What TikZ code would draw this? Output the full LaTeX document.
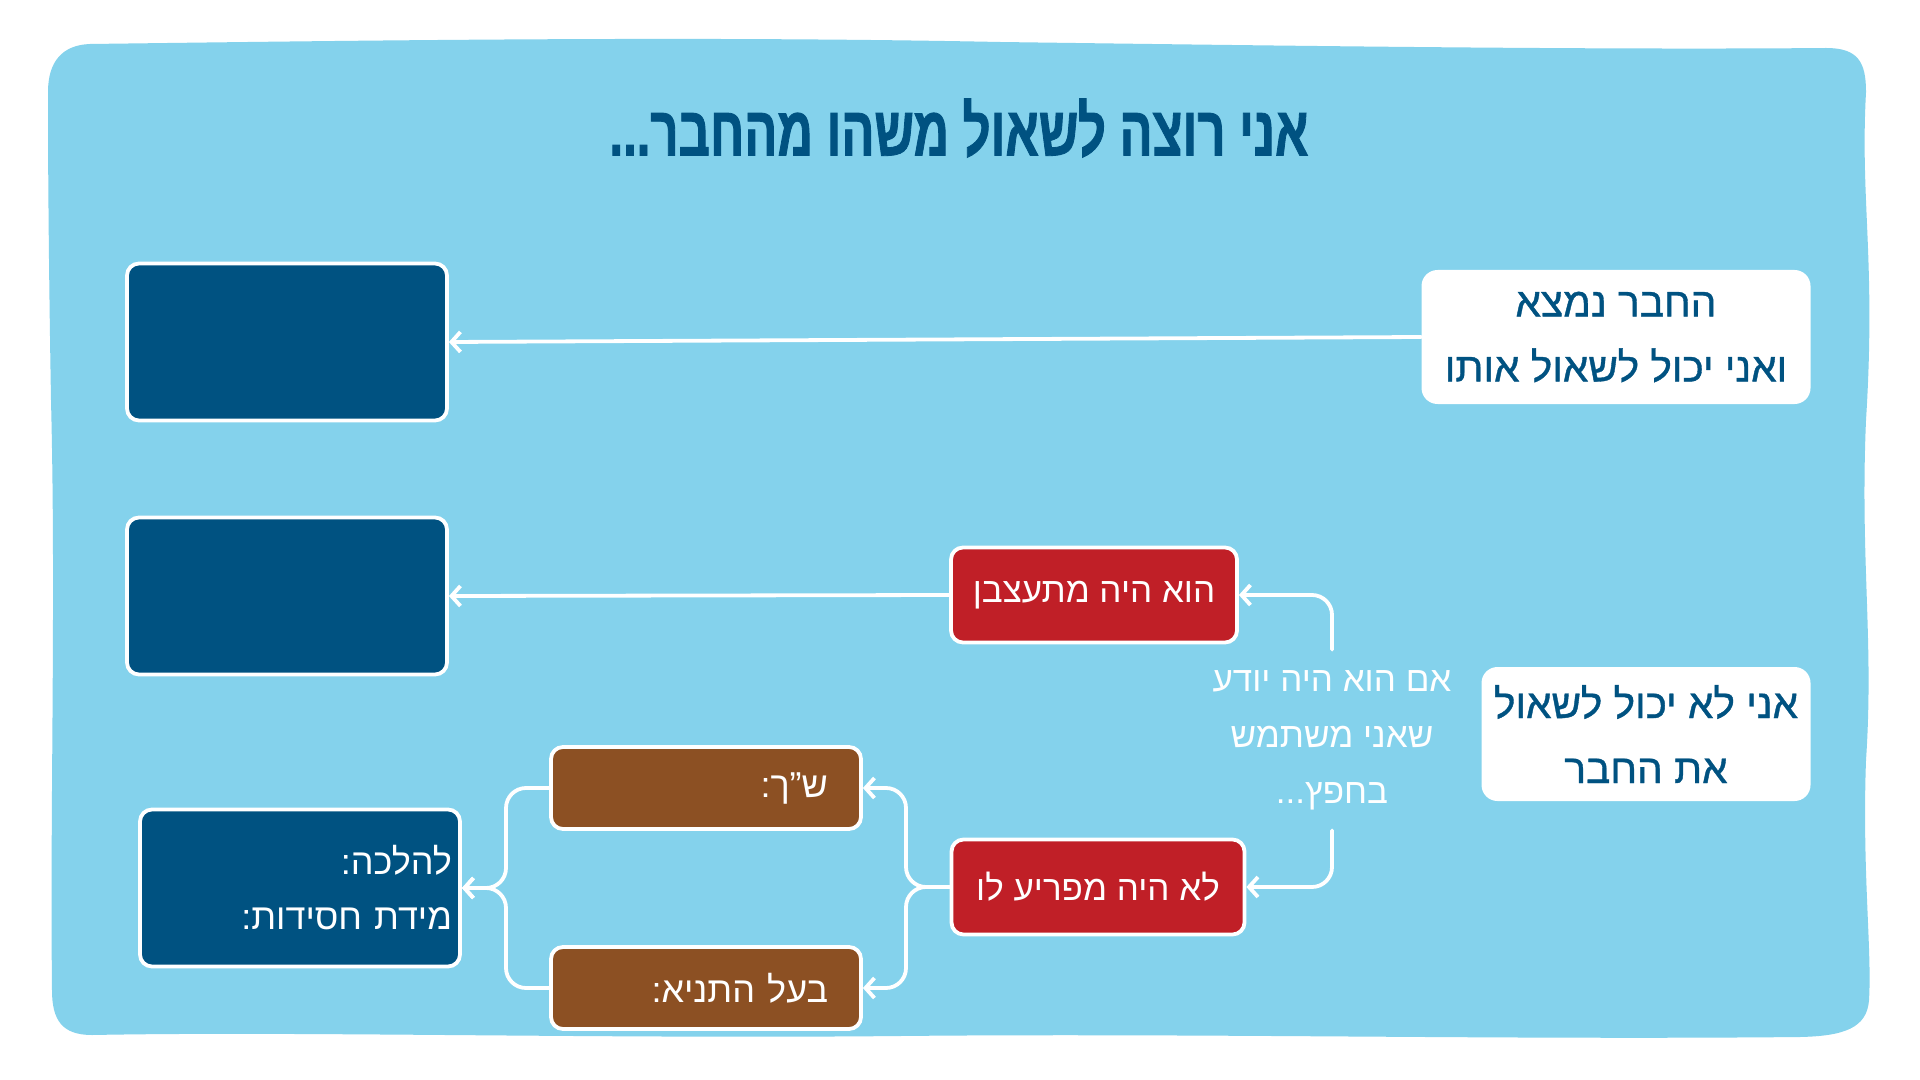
\documentclass[tikz,border=0pt]{standalone}
\usepackage{fontspec}
\usetikzlibrary{arrows.meta}
\TeXXeTstate=1
\newfontfamily\hebfont[Script=Hebrew]{Liberation Sans}
\newfontfamily\hebsemi[Script=Hebrew,FakeBold=0.9]{Liberation Sans}
\newfontfamily\titlefont[Script=Hebrew,FakeStretch=0.7,FakeBold=1.2]{Liberation Sans Bold}
\newcommand{\heb}[1]{{\beginR #1\endR}}
\definecolor{bgblue}{HTML}{84D2EC}
\definecolor{dkblue}{HTML}{005281}
\definecolor{redbox}{HTML}{C01F27}
\definecolor{brownbox}{HTML}{8C5023}
\tikzset{
  x=0.5pt, y=-0.5pt,
  basebox/.style={draw=white, line width=1.9pt, rounded corners=6pt, text=white, inner sep=0pt},
  darkbox/.style={basebox, fill=dkblue, minimum width=160pt, minimum height=78.5pt},
  redstep/.style={basebox, fill=redbox, minimum height=47.5pt, font=\hebfont\fontsize{17.5}{22}\selectfont},
  brownstep/.style={basebox, fill=brownbox, minimum width=155pt, minimum height=41pt, text width=122pt, align=right, font=\hebfont\fontsize{18}{22}\selectfont},
  whitebox/.style={fill=white, rounded corners=8pt, text=dkblue, align=center, font=\hebsemi\fontsize{20.3}{32.5}\selectfont},
  conn/.style={draw=white, line width=1.9pt, line cap=round, rounded corners=10pt, -{Straight Barb[length=4.5pt,width=10pt,line width=1.9pt]}}
}
\begin{document}
\begin{tikzpicture}
\useasboundingbox (0,0) rectangle (1920,1080);
\fill[white] (0,0) rectangle (1920,1080);
% wavy background
\fill[bgblue] (90,44) .. controls (400,40) and (700,36) .. (1000,42)
  .. controls (1300,46) and (1600,50) .. (1826,48)
  .. controls (1858,48) and (1866,62) .. (1866,92)
  .. controls (1860,200) and (1876,260) .. (1866,420)
  .. controls (1860,560) and (1874,640) .. (1866,760)
  .. controls (1862,870) and (1872,950) .. (1869,1000)
  .. controls (1867,1028) and (1844,1036) .. (1800,1037)
  .. controls (1500,1040) and (1200,1033) .. (900,1036)
  .. controls (600,1039) and (300,1031) .. (92,1035)
  .. controls (62,1035) and (52,1020) .. (52,990)
  .. controls (50,800) and (56,600) .. (51,400)
  .. controls (48,220) and (48,130) .. (48,92)
  .. controls (48,62) and (62,45) .. (90,44) -- cycle;
% title
\node[text=dkblue, font=\titlefont\fontsize{35}{40}\selectfont] (title) at (959,128) {\heb{אני רוצה לשאול משהו מהחבר...}};
% dark boxes
\node[darkbox] (A) at (287,342) {};
\node[darkbox] (B) at (287,596) {};
\node[darkbox, text width=152pt, align=right, font=\hebfont\fontsize{18}{27.5}\selectfont] (C) at (300,888) {\heb{להלכה:}\\\heb{מידת חסידות:}};
% white boxes
\node[whitebox, minimum width=194.5pt, minimum height=67pt] (W1) at (1616,337) {\heb{החבר נמצא}\\\heb{ואני יכול לשאול אותו}};
\node[whitebox, minimum width=164.5pt, minimum height=67pt] (W2) at (1646,734) {\heb{אני לא יכול לשאול}\\\heb{את החבר}};
% red boxes
\node[redstep, minimum width=143pt] (R1) at (1094,595) {\heb{הוא היה מתעצבן}};
\node[redstep, minimum width=146.5pt] (R2) at (1098,887) {\heb{לא היה מפריע לו}};
% brown boxes
\node[brownstep] (Br1) at (706,788) {\heb{ש”ך:}};
\node[brownstep] (Br2) at (706,988) {\heb{בעל התניא:}};
% middle label
\node[text=white, align=center, minimum height=90pt, inner sep=0pt, font=\hebfont\fontsize{17.5}{28}\selectfont] (L) at (1332,740) {\heb{אם הוא היה יודע}\\\heb{שאני משתמש}\\\heb{בחפץ...}};
% connectors
\coordinate (f1) at (906,887);
\coordinate (f2) at (506,888);
\draw[conn] (W1.west) -- (A.east);
\draw[conn] (R1.west) -- (B.east);
\draw[conn] (L.north) |- (R1.east);
\draw[conn] (L.south) |- (R2.east);
\draw[conn] (R2.west) -- (f1) |- (Br1.east);
\draw[conn] (R2.west) -- (f1) |- (Br2.east);
\draw[conn] (Br1.west) -| (f2) -- (C.east);
\draw[conn] (Br2.west) -| (f2) -- (C.east);
\end{tikzpicture}
\end{document}
